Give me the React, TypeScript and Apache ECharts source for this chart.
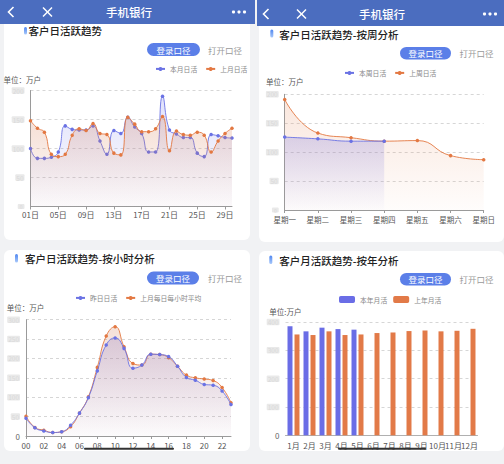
import React, { useEffect, useRef } from 'react';
import * as echarts from 'echarts';

const FONT = '"Noto Sans CJK SC", "Noto Sans", sans-serif';

// ---------- data ----------
const dayCats = ['01日', '02日', '03日', '04日', '05日', '06日', '07日', '08日', '09日', '10日', '11日', '12日', '13日', '14日', '15日', '16日', '17日', '18日', '19日', '20日', '21日', '22日', '23日', '24日', '25日', '26日', '27日', '28日', '29日', '30日'];
const monthThis = [100, 83, 83, 85, 94, 139, 133, 132, 132, 139, 113, 90, 131, 126, 154, 137, 126, 94, 94, 190, 132, 125, 119, 119, 92, 86, 124, 122, 119, 118];
const monthLast = [148, 135, 128, 90, 86, 90, 123, 134, 131, 143, 126, 124, 92, 89, 154, 142, 129, 129, 134, 155, 96, 130, 124, 123, 128, 123, 94, 113, 126, 135];

const weekCats = ['星期一', '星期二', '星期三', '星期四', '星期五', '星期六', '星期日'];
const weekThis = [126, 123, 119, 119];
const weekLast = [191, 133, 125, 119, 120, 94, 87];

const hourCats = ['00', '01', '02', '03', '04', '05', '06', '07', '08', '09', '10', '11', '12', '13', '14', '15', '16', '17', '18', '19', '20', '21', '22', '23'];
const hourYesterday = [46, 21, 13, 9, 11, 28, 59, 99, 168, 235, 253, 226, 175, 183, 211, 210, 205, 180, 151, 144, 133, 131, 116, 81];
const hourAvg = [51, 22, 15, 9, 11, 24, 59, 101, 177, 258, 282, 230, 187, 183, 211, 210, 202, 180, 157, 150, 147, 143, 125, 86];

const monthCats = ['1月', '2月', '3月', '4月', '5月', '6月', '7月', '8月', '9月', '10月', '11月', '12月'];
const yearThis = [385, 367, 380, 375, 373, null, null, null, null, null, null, null];
const yearLast = [356, 354, 367, 354, 356, 361, 363, 368, 370, 367, 369, 376];

// ---------- styles ----------
const BLUE = '#6a72e4';
const ORANGE = '#e37842';
const BAR_BLUE = '#6a6de6';
const BAR_ORANGE = '#e27a48';
const HEADER = '#4b6dbf';
const BTN = '#5b7fe8';

const grad = (a: string, b: string) =>
  new echarts.graphic.LinearGradient(0, 0, 0, 1, [
    { offset: 0, color: a },
    { offset: 1, color: b },
  ]);

const blurLabel = (showZero: boolean) => ({
  fontSize: 6.5,
  margin: 6,
  formatter: (v: number) => (v === 0 ? (showZero ? '{z|0}' : '{s|0}') : '{b|' + v + '}'),
  rich: {
    b: { color: '#d9d9d9', backgroundColor: '#e9e9e9', fontSize: 6.5, lineHeight: 7, padding: [0, 1], borderRadius: 1 },
    s: { color: '#d9d9d9', backgroundColor: '#e9e9e9', fontSize: 5, lineHeight: 5, padding: [0, 2], borderRadius: 1 },
    z: { color: '#666', fontSize: 8 },
  },
});

const yAxisBase = (gridIndex: number, max: number, interval: number, showLine: boolean, showZero: boolean) => ({
  gridIndex,
  type: 'value',
  min: 0,
  max,
  interval,
  axisLine: { show: showLine, lineStyle: { color: '#9a9a9a', width: 1 } },
  axisTick: { show: false },
  splitLine: { show: true, lineStyle: { color: '#d6d6d6', type: [3, 3] } },
  axisLabel: blurLabel(showZero),
});

const lineSeries = (name: string, xi: number, data: (number | null)[], color: string, areaTop: string, areaBot: string, z: number) => ({
  name,
  type: 'line',
  xAxisIndex: xi,
  yAxisIndex: xi,
  data,
  smooth: true,
  symbol: 'circle',
  symbolSize: 3.5,
  showSymbol: true,
  z,
  itemStyle: { color },
  lineStyle: { width: 0.9, color },
  areaStyle: { color: grad(areaTop, areaBot) },
});

const legendBase = (data: string[], left: number, top: number) => ({
  data,
  left,
  top,
  itemWidth: 9,
  itemHeight: 5,
  itemGap: 8,
  selectedMode: false,
  textStyle: { fontSize: 6.8, color: '#888', fontFamily: FONT },
});

// ---------- graphics ----------
const W = '#ffffff';

const headerGraphics = (x: number, w: number, h: number, cx: number, cy: number, backX: number, closeX: number, dotX: number) => [
  { type: 'rect', shape: { x, y: 0, width: w, height: h }, style: { fill: HEADER }, z: -5, silent: true },
  {
    type: 'polyline',
    shape: { points: [[backX + 5, cy - 5], [backX, cy], [backX + 5, cy + 5]] },
    style: { stroke: W, lineWidth: 1.6, fill: 'none' },
    z: 10,
  },
  { type: 'line', shape: { x1: closeX, y1: cy - 4.5, x2: closeX + 9, y2: cy + 4.5 }, style: { stroke: W, lineWidth: 1.5 }, z: 10 },
  { type: 'line', shape: { x1: closeX + 9, y1: cy - 4.5, x2: closeX, y2: cy + 4.5 }, style: { stroke: W, lineWidth: 1.5 }, z: 10 },
  {
    type: 'text',
    x: cx,
    y: cy,
    style: { text: '手机银行', fill: W, fontSize: 11.5, fontWeight: 500, fontFamily: FONT, align: 'center', verticalAlign: 'middle' },
    z: 10,
  },
  { type: 'circle', shape: { cx: dotX, cy, r: 1.6 }, style: { fill: W }, z: 10 },
  { type: 'circle', shape: { cx: dotX + 5.5, cy, r: 1.6 }, style: { fill: W }, z: 10 },
  { type: 'circle', shape: { cx: dotX + 11, cy, r: 1.6 }, style: { fill: W }, z: 10 },
];

const titleGraphics = (mx: number, my: number, mh: number, tx: number, ty: number, title: string) => [
  {
    type: 'rect',
    shape: { x: mx, y: my, width: 3, height: mh, r: 1.5 },
    style: { fill: grad('#4f86f0', '#a8c8fa') },
    z: 10,
  },
  {
    type: 'text',
    x: tx,
    y: ty,
    style: { text: title, fill: '#222', fontSize: 10.5, fontWeight: 500, fontFamily: FONT, verticalAlign: 'middle' },
    z: 10,
  },
];

const buttonGraphics = (bx: number, by: number, bw: number, bh: number, ox: number) => [
  { type: 'rect', shape: { x: bx, y: by, width: bw, height: bh, r: bh / 2 }, style: { fill: BTN }, z: 10 },
  {
    type: 'text',
    x: bx + bw / 2,
    y: by + bh / 2,
    style: { text: '登录口径', fill: W, fontSize: 8.5, fontFamily: FONT, align: 'center', verticalAlign: 'middle' },
    z: 11,
  },
  {
    type: 'text',
    x: ox,
    y: by + bh / 2,
    style: { text: '打开口径', fill: '#9a9a9a', fontSize: 8.5, fontFamily: FONT, align: 'center', verticalAlign: 'middle' },
    z: 11,
  },
];

const unitText = (x: number, y: number, text: string) => ({
  type: 'text',
  x,
  y,
  style: { text, fill: '#555', fontSize: 7.5, fontFamily: FONT, verticalAlign: 'middle' },
  z: 10,
});

const card = (x: number, y: number, w: number, h: number) => ({
  type: 'rect',
  shape: { x, y, width: w, height: h, r: 6 },
  style: { fill: W },
  z: -8,
  silent: true,
});

export default function App() {
  const ref = useRef<HTMLDivElement>(null);

  useEffect(() => {
    document.body.style.margin = '0';
    if (!ref.current) return;
    const chart = echarts.init(ref.current, undefined, { renderer: 'svg' });

    const option: any = {
      animation: false,
      backgroundColor: '#f1f2f4',
      textStyle: { fontFamily: FONT },
      grid: [
        { left: 30.5, top: 90.5, width: 201.5, height: 116 },
        { left: 284.7, top: 94.3, width: 199, height: 115.7 },
        { left: 26, top: 319.7, width: 205, height: 116.3 },
        { left: 285.5, top: 322, width: 192, height: 113.3 },
      ],
      legend: [
        legendBase(['本月日活', '上月日活'], 150, 60.5),
        legendBase(['本周日活', '上周日活'], 339, 64.5),
        legendBase(['昨日日活', '上月每日每小时平均'], 70, 289.5),
        {
          ...legendBase(['本年月活', '上年月活'], 334, 291),
          itemWidth: 16,
          itemHeight: 7,
          itemGap: 6,
          icon: 'roundRect',
        },
      ],
      xAxis: [
        {
          gridIndex: 0,
          type: 'category',
          data: dayCats,
          boundaryGap: false,
          axisLine: { lineStyle: { color: '#9a9a9a' } },
          axisTick: { show: true, interval: 3, length: 3, lineStyle: { color: '#9a9a9a' } },
          axisLabel: { interval: 3, fontSize: 8, color: '#555', margin: 4 },
        },
        {
          gridIndex: 1,
          type: 'category',
          data: weekCats,
          boundaryGap: false,
          axisLine: { lineStyle: { color: '#9a9a9a' } },
          axisTick: { show: true, length: 3, lineStyle: { color: '#9a9a9a' } },
          axisLabel: { fontSize: 7.5, color: '#555', margin: 5.5 },
        },
        {
          gridIndex: 2,
          type: 'category',
          data: hourCats,
          boundaryGap: false,
          axisLine: { lineStyle: { color: '#9a9a9a' } },
          axisTick: { show: true, interval: 1, length: 3, lineStyle: { color: '#9a9a9a' } },
          axisLabel: { interval: 1, fontSize: 8, color: '#555', margin: 5 },
        },
        {
          gridIndex: 3,
          type: 'category',
          data: monthCats,
          boundaryGap: true,
          axisLine: { lineStyle: { color: '#b0b0b0' } },
          axisTick: { show: false },
          axisLabel: { interval: 0, fontSize: 8, color: '#555', margin: 6 },
        },
      ],
      yAxis: [
        yAxisBase(0, 200, 50, true, false),
        yAxisBase(1, 200, 50, true, false),
        yAxisBase(2, 300, 50, true, true),
        yAxisBase(3, 400, 100, false, true),
      ],
      series: [
        lineSeries('本月日活', 0, monthThis, BLUE, 'rgba(120,125,235,0.32)', 'rgba(120,125,235,0.03)', 2),
        lineSeries('上月日活', 0, monthLast, ORANGE, 'rgba(215,125,85,0.36)', 'rgba(215,125,85,0.03)', 3),
        lineSeries('本周日活', 1, weekThis, BLUE, 'rgba(125,120,220,0.38)', 'rgba(125,120,220,0.02)', 3),
        lineSeries('上周日活', 1, weekLast, ORANGE, 'rgba(230,140,95,0.30)', 'rgba(230,140,95,0.03)', 2),
        lineSeries('昨日日活', 2, hourYesterday, BLUE, 'rgba(120,100,190,0.32)', 'rgba(120,100,190,0.02)', 3),
        lineSeries('上月每日每小时平均', 2, hourAvg, ORANGE, 'rgba(215,140,110,0.38)', 'rgba(215,140,110,0.02)', 2),
        {
          name: '本年月活',
          type: 'bar',
          xAxisIndex: 3,
          yAxisIndex: 3,
          data: yearThis,
          barWidth: 5,
          barGap: '40%',
          itemStyle: { color: BAR_BLUE },
        },
        {
          name: '上年月活',
          type: 'bar',
          xAxisIndex: 3,
          yAxisIndex: 3,
          data: yearLast,
          barWidth: 5,
          barGap: '40%',
          itemStyle: { color: BAR_ORANGE },
        },
      ],
      graphic: [
        card(4, 18, 246, 222),
        card(259, 20, 245, 222),
        card(4, 250, 246, 201),
        card(259, 251, 245, 200),
        ...headerGraphics(0, 255, 24, 129, 12, 8.5, 43, 233.5),
        ...headerGraphics(257, 247, 26, 382, 14, 263.5, 297, 484.5),
        ...titleGraphics(24, 27, 7.5, 28.5, 30.5, '客户日活跃趋势'),
        ...titleGraphics(270.3, 29.5, 8, 279.3, 34, '客户日活跃趋势-按周分析'),
        ...titleGraphics(15, 254, 8.5, 25, 258.7, '客户日活跃趋势-按小时分析'),
        ...titleGraphics(269.3, 255.5, 8.5, 279.3, 260.3, '客户月活跃趋势-按年分析'),
        ...buttonGraphics(147, 43, 53, 13, 225),
        ...buttonGraphics(400, 47, 51, 12.5, 476.5),
        ...buttonGraphics(147, 271.5, 52, 13, 225),
        ...buttonGraphics(400, 273, 51, 12.5, 476.5),
        unitText(3.5, 79, '单位：万户'),
        unitText(266, 81.3, '单位：万户'),
        unitText(6.7, 307.3, '单位：万户'),
        unitText(269.3, 311, '单位:万户'),
        { type: 'rect', shape: { x: 84, y: 447.8, width: 90, height: 2, r: 1 }, style: { fill: '#333' }, z: 12 },
        { type: 'rect', shape: { x: 338, y: 447.8, width: 88, height: 2, r: 1 }, style: { fill: '#333' }, z: 12 },
      ],
    };

    chart.setOption(option);
    return () => chart.dispose();
  }, []);

  return <div ref={ref} style={{ position: 'absolute', left: 0, top: 0, width: 504, height: 464 }} />;
}
